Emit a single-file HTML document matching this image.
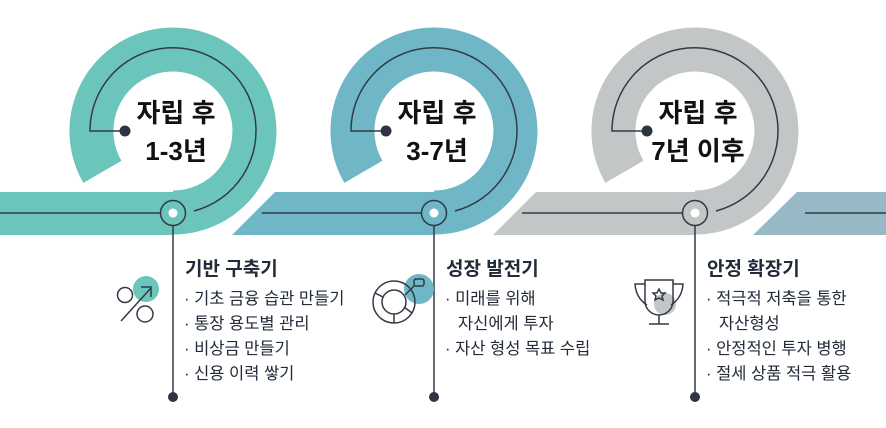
<!DOCTYPE html>
<html><head><meta charset="utf-8"><style>
body{margin:0;background:#fff;width:886px;height:428px;overflow:hidden}
svg{display:block}
.t{font-family:"Liberation Sans","Noto Sans CJK KR",sans-serif}
</style></head><body>
<svg width="886" height="428" viewBox="0 0 886 428" xmlns="http://www.w3.org/2000/svg">
<polygon points="0,192 173,192 173,235 0,235" fill="#6cc5bb"/>
<polygon points="275,192 434,192 434,235 232,235" fill="#6fb7c6"/>
<polygon points="536,192 695,192 695,235 493,235" fill="#c3c6c6"/>
<polygon points="797,192 886,192 886,235 753,235" fill="#97b9c6"/>
<g fill="none">
<path d="M102.4,171.8 A81.5,81.5 0 1 1 173,212.5" stroke="#fff" stroke-width="55"/>
<path d="M102.4,171.8 A81.5,81.5 0 1 1 173,212.5" stroke="#6cc5bb" stroke-width="44"/>
<path d="M363.4,171.8 A81.5,81.5 0 1 1 434,212.5" stroke="#fff" stroke-width="55"/>
<path d="M363.4,171.8 A81.5,81.5 0 1 1 434,212.5" stroke="#6fb7c6" stroke-width="44"/>
<path d="M624.4,171.8 A81.5,81.5 0 1 1 695,212.5" stroke="#fff" stroke-width="55"/>
<path d="M624.4,171.8 A81.5,81.5 0 1 1 695,212.5" stroke="#c3c6c6" stroke-width="44"/>
</g>
<rect x="0" y="192" width="173" height="43" fill="#6cc5bb"/>
<rect x="300" y="192" width="134" height="43" fill="#6fb7c6"/>
<rect x="560" y="192" width="135" height="43" fill="#c3c6c6"/>
<g stroke="#333a45" stroke-width="1.5" fill="none">
<line x1="0" y1="213" x2="160" y2="213"/>
<line x1="262" y1="213" x2="421" y2="213"/>
<line x1="522" y1="213" x2="682" y2="213"/>
<line x1="805" y1="213" x2="886" y2="213"/>
<path d="M125,131 H90 A83,83 0 1 1 194,211"/>
<path d="M386,131 H351 A83,83 0 1 1 455,211"/>
<path d="M647,131 H612 A83,83 0 1 1 716,211"/>
</g>
<g fill="#2e3440">
<circle cx="125" cy="131" r="5.5"/><circle cx="386" cy="131" r="5.5"/><circle cx="647" cy="131" r="5.5"/>
</g>
<g stroke="#333a45" stroke-width="1.5">
<circle cx="173" cy="213" r="12.5" fill="#6cc5bb"/>
<circle cx="434" cy="213" r="12.5" fill="#6fb7c6"/>
<circle cx="695" cy="213" r="12.5" fill="#c3c6c6"/>
<line x1="173" y1="226" x2="173" y2="396"/>
<line x1="434" y1="226" x2="434" y2="396"/>
<line x1="695" y1="226" x2="695" y2="396"/>
</g>
<g fill="#fff"><circle cx="173" cy="213" r="4.5"/><circle cx="434" cy="213" r="4.5"/><circle cx="695" cy="213" r="4.5"/></g>
<g fill="#2e3440"><circle cx="173" cy="397" r="5"/><circle cx="434" cy="397" r="5"/><circle cx="695" cy="397" r="5"/></g>
<g class="t" font-weight="bold" font-size="26" fill="#111" text-anchor="middle">
<text x="176" y="122">자립 후</text><text x="176" y="160">1-3년</text>
<text x="437" y="122">자립 후</text><text x="437" y="160">3-7년</text>
<text x="698" y="122">자립 후</text><text x="698" y="160">7년 이후</text>
</g>
<g class="t" fill="#222b3a">
<text x="185" y="275" font-size="19" font-weight="bold">기반 구축기</text>
<g font-size="16.5"><text x="184" y="304">· 기초 금융 습관 만들기</text><text x="184" y="329">· 통장 용도별 관리</text><text x="184" y="354">· 비상금 만들기</text><text x="184" y="379">· 신용 이력 쌓기</text></g>
<text x="446" y="275" font-size="19" font-weight="bold">성장 발전기</text>
<g font-size="16.5"><text x="445" y="304">· 미래를 위해</text><text x="458" y="329">자신에게 투자</text><text x="445" y="354">· 자산 형성 목표 수립</text></g>
<text x="707" y="275" font-size="19" font-weight="bold">안정 확장기</text>
<g font-size="16.5"><text x="706" y="304">· 적극적 저축을 통한</text><text x="719" y="329">자산형성</text><text x="706" y="354">· 안정적인 투자 병행</text><text x="706" y="379">· 절세 상품 적극 활용</text></g>
</g>
<circle cx="146" cy="289" r="13" fill="#6cc5bb"/>
<g stroke="#333a45" stroke-width="1.5" fill="none">
<circle cx="125" cy="295" r="7.5"/><circle cx="145" cy="314" r="8"/>
<line x1="121" y1="321" x2="151" y2="288"/><polyline points="141,287 151,287 151,297"/>
</g>
<circle cx="419" cy="289" r="15" fill="#6fb7c6"/>
<g stroke="#333a45" stroke-width="1.5" fill="none">
<circle cx="394" cy="302" r="21"/><circle cx="394" cy="302" r="12"/>
<line x1="394" y1="314" x2="394" y2="323"/><line x1="383" y1="297" x2="375" y2="293"/><line x1="404" y1="307" x2="412" y2="313"/>
<line x1="405" y1="295" x2="415" y2="285"/><rect x="414" y="279" width="10" height="7" rx="2"/>
</g>
<circle cx="665" cy="304" r="11" fill="#c3c6c6"/>
<g stroke="#333a45" stroke-width="1.5" fill="none">
<path d="M645,280 H673 V301 A14,14 0 0 1 645,301 Z"/>
<path d="M645,284 H635 Q636,298 647,305"/><path d="M673,284 H683 Q682,298 671,305"/>
<line x1="659" y1="315" x2="659" y2="324"/><line x1="649" y1="324" x2="669" y2="324"/>
<polygon points="659,289 661,293 665,293 662,296 663,300 659,298 655,300 656,296 653,293 657,293"/>
</g>
</svg>
</body></html>
